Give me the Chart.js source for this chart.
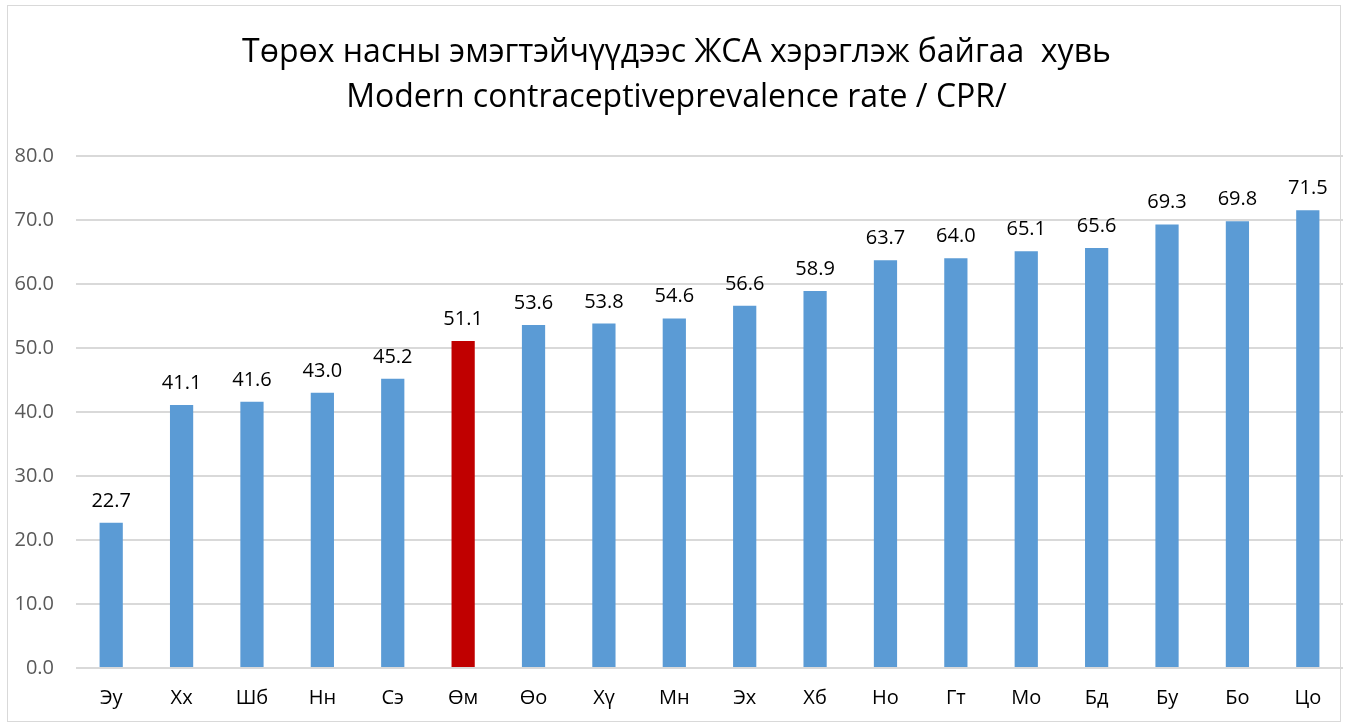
<!DOCTYPE html>
<html>
<head>
<meta charset="utf-8">
<script src="https://cdn.jsdelivr.net/npm/chart.js@4"></script>
<style>
  html,body{margin:0;padding:0;background:#fff;}
  #wrap{position:absolute;left:7px;top:5px;width:1334px;height:717px;border:1px solid #d9d9d9;box-sizing:border-box;}
  #c{position:absolute;left:0;top:0;}
</style>
</head>
<body>
<div id="wrap"></div>
<canvas id="c" width="1346" height="726"></canvas>
<script>
// aimag codes and CPR values
const labels = ['Эу','Хх','Шб','Нн','Сэ','Өм','Өо','Хү','Мн','Эх','Хб','Но','Гт','Мо','Бд','Бу','Бо','Цо'];
const values = [22.7,41.1,41.6,43.0,45.2,51.1,53.6,53.8,54.6,56.6,58.9,63.7,64.0,65.1,65.6,69.3,69.8,71.5];
const highlight = 'Өм';
const titleLines = ['Төрөх насны эмэгтэйчүүдээс ЖСА хэрэглэж байгаа  хувь','Modern contraceptiveprevalence rate / CPR/'];

const blue = '#5b9bd5', red = '#c00000';
const fam = '"Open Sans", sans-serif';

// simple value labels above bars
const barLabels = {
  id:'barLabels',
  afterDatasetsDraw(chart){
    const ctx = chart.ctx;
    const meta = chart.getDatasetMeta(0);
    ctx.save();
    ctx.font = '20px ' + fam;
    ctx.fillStyle = '#000';
    ctx.textAlign = 'center';
    ctx.textBaseline = 'alphabetic';
    meta.data.forEach((bar,i)=>{
      ctx.fillText(values[i].toFixed(1), bar.x, bar.y - 16);
    });
    ctx.restore();
  }
};

new Chart(document.getElementById('c'), {
  type:'bar',
  data:{ labels:labels, datasets:[{
    data:values,
    backgroundColor:labels.map(l=> l===highlight ? red : blue),
    barPercentage:0.33, categoryPercentage:1.0
  }]},
  options:{
    responsive:false, animation:false,
    layout:{padding:{left:10, right:3, top:30, bottom:6}},
    plugins:{
      legend:{display:false}, tooltip:{enabled:false},
      title:{display:true, text:titleLines, color:'#000',
        font:{family:fam, size:32, weight:'normal', lineHeight:1.42},
        padding:{top:0, bottom:35}}
    },
    scales:{
      x:{ grid:{display:false}, border:{display:false},
          ticks:{color:'#000', font:{family:fam, size:20}, padding:10} },
      y:{ min:0, max:80, grid:{color:'#d9d9d9', lineWidth:2, drawTicks:false}, border:{display:false},
          afterFit(scale){ scale.width = 66; },
          ticks:{stepSize:10, color:'#595959', padding:22, font:{family:fam, size:20},
                 callback:v=>v.toFixed(1)} }
    }
  },
  plugins:[barLabels]
});
</script>
</body>
</html>
